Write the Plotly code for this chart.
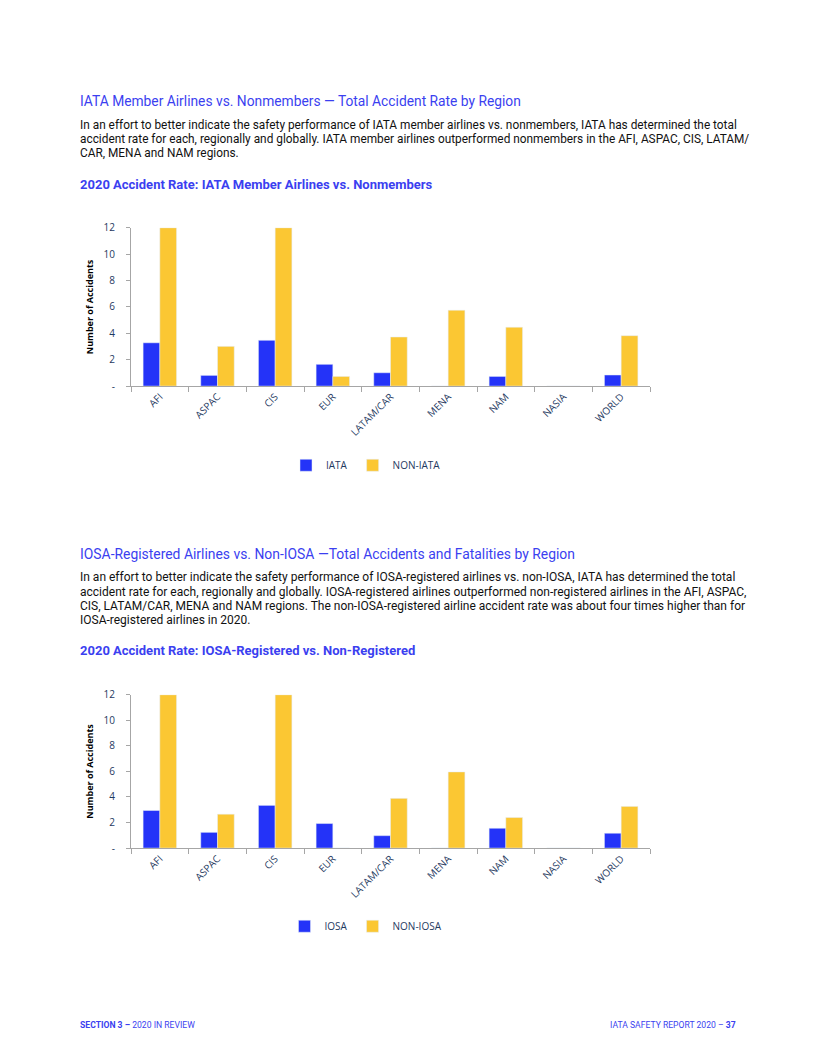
import plotly.graph_objects as go

regions = ["AFI", "ASPAC", "CIS", "EUR", "LATAM/CAR", "MENA", "NAM", "NASIA", "WORLD"]
iata = [3.28, 0.81, 3.47, 1.65, 1.01, 0, 0.73, 0, 0.84]
non_iata = [12, 3.01, 12, 0.73, 3.72, 5.75, 4.46, 0, 3.82]
iosa = [2.94, 1.23, 3.34, 1.92, 0.97, 0, 1.55, 0, 1.16]
non_iosa = [12, 2.65, 12, 0, 3.89, 5.96, 2.39, 0, 3.26]
ytick_vals = [0, 2, 4, 6, 8, 10, 12]
ytick_text = ["-", "2", "4", "6", "8", "10", "12"]

BLUE = "#2433F8"
YELLOW = "#FBC733"
HEAD = "#3B3FF0"
W, H = 816, 1056

# map on-screen page pixels to paper coordinates (compensates page offset/scaling)
def sx(p):
    return (p - 8) / W

def sy(p):
    return 1 - ((p - 16.7) / 0.9837) / H

fig = go.Figure()
fig.add_trace(go.Bar(x=regions, y=iata, name="IATA", marker_color=BLUE, xaxis="x", yaxis="y", legend="legend"))
fig.add_trace(go.Bar(x=regions, y=non_iata, name="NON-IATA", marker_color=YELLOW, xaxis="x", yaxis="y", legend="legend"))
fig.add_trace(go.Bar(x=regions, y=iosa, name="IOSA", marker_color=BLUE, xaxis="x2", yaxis="y2", legend="legend2"))
fig.add_trace(go.Bar(x=regions, y=non_iosa, name="NON-IOSA", marker_color=YELLOW, xaxis="x2", yaxis="y2", legend="legend2"))

tickfont = dict(family="Open Sans, sans-serif", size=10, color="#1F3A5F")
xcommon = dict(domain=[sx(131), sx(650)], showline=True, linecolor="#A6A6A6", linewidth=1,
               ticks="outside", tickson="boundaries", ticklen=5, tickcolor="#A6A6A6",
               tickangle=-45, tickfont=tickfont, showgrid=False, zeroline=False, fixedrange=True)
ycommon = dict(range=[0, 12], tickvals=ytick_vals, ticktext=ytick_text, showline=True,
               linecolor="#A6A6A6", linewidth=1, showgrid=False, zeroline=False,
               ticks="outside", ticklen=4, tickcolor="#A6A6A6",
               tickfont=tickfont, ticklabelstandoff=9, fixedrange=True,
               title=dict(text="<b>Number of Accidents</b>",
                          font=dict(family="Open Sans, sans-serif", size=9, color="#000"), standoff=8))

legfont = dict(family="Open Sans, sans-serif", size=10, color="#1F3A5F")
fig.update_layout(
    width=W, height=H, margin=dict(l=0, r=0, t=0, b=0),
    paper_bgcolor="white", plot_bgcolor="white",
    barmode="group", bargap=0.42, bargroupgap=0,
    xaxis=dict(anchor="y", **xcommon),
    yaxis=dict(anchor="x", domain=[sy(386), sy(228)], **ycommon),
    xaxis2=dict(anchor="y2", **xcommon),
    yaxis2=dict(anchor="x2", domain=[sy(847), sy(694)], **ycommon),
    legend=dict(orientation="h", x=sx(366), xanchor="center", y=sy(465), yanchor="middle",
                font=legfont, itemwidth=30, tracegroupgap=0, itemclick=False),
    legend2=dict(orientation="h", x=sx(366), xanchor="center", y=sy(925), yanchor="middle",
                 font=legfont, itemwidth=30, tracegroupgap=0, itemclick=False),
    showlegend=True,
)

FONT = "Roboto, sans-serif"

def text(x, y, s, size, color, anchor="left", bold=False):
    if bold:
        s = "<b>" + s + "</b>"
    fig.add_annotation(x=sx(x), y=sy(y), xref="paper", yref="paper", text=s, showarrow=False,
                       xanchor=anchor, yanchor="middle", align=anchor,
                       font=dict(family=FONT, size=size, color=color))

text(78, 102, "IATA Member Airlines vs. Nonmembers \u2014 Total Accident Rate by Region", 13.8, HEAD)
para1 = ["In an effort to better indicate the safety performance of IATA member airlines vs. nonmembers, IATA has determined the total",
         "accident rate for each, regionally and globally. IATA member airlines outperformed nonmembers in the AFI, ASPAC, CIS, LATAM/",
         "CAR, MENA and NAM regions."]
for i, line in enumerate(para1):
    text(78, 125 + 14 * i, line, 11.85, "#111111")
text(78, 185, "2020 Accident Rate: IATA Member Airlines vs. Nonmembers", 13, HEAD, bold=True)

text(78, 554, "IOSA-Registered Airlines vs. Non-IOSA \u2014Total Accidents and Fatalities by Region", 13.9, HEAD)
para2 = ["In an effort to better indicate the safety performance of IOSA-registered airlines vs. non-IOSA, IATA has determined the total",
         "accident rate for each, regionally and globally. IOSA-registered airlines outperformed non-registered airlines in the AFI, ASPAC,",
         "CIS, LATAM/CAR, MENA and NAM regions. The non-IOSA-registered airline accident rate was about four times higher than for",
         "IOSA-registered airlines in 2020."]
for i, line in enumerate(para2):
    text(78, 577 + 14 * i, line, 12, "#111111")
text(78, 650, "2020 Accident Rate: IOSA-Registered vs. Non-Registered", 13, HEAD, bold=True)

text(78, 1024, "<b>SECTION 3 \u2013</b> 2020 IN REVIEW", 8.6, HEAD)
text(738, 1024, "IATA SAFETY REPORT 2020 \u2013 <b>37</b>", 8.6, HEAD, anchor="right")

fig.write_html("out.html")
